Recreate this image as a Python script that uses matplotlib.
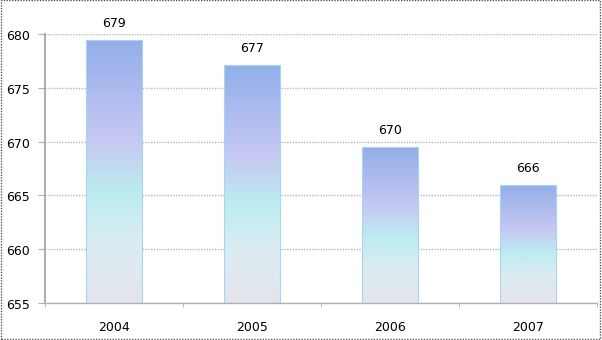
import matplotlib
matplotlib.use("Agg")
import matplotlib.pyplot as plt
import numpy as np
from matplotlib.colors import LinearSegmentedColormap
from matplotlib.patches import Rectangle

years = ["2004", "2005", "2006", "2007"]
values = [679.45, 677.1, 669.5, 665.97]
labels = ["679", "677", "670", "666"]
yticks = [655, 660, 665, 670, 675, 680]

fig = plt.figure(figsize=6.02 * np.array([1, 341 / 602]), dpi=100)
ax = fig.add_axes([45 / 602, 37 / 341, 552 / 602, 269 / 341])

cmap = LinearSegmentedColormap.from_list(
    "g", [(0.0, "#e4e4ec"), (0.22, "#dcecf2"), (0.42, "#bcecf0"),
          (0.62, "#c6c8f2"), (1.0, "#92aeea")])
grad = np.linspace(0, 1, 256).reshape(-1, 1)

ymin, ymax = 655, 680
width = 0.41
x = np.arange(len(years))
bars = ax.bar(x, [v - ymin for v in values], width, bottom=ymin,
              color="none", edgecolor="#a8d4f4", linewidth=0.8, zorder=3)
for b in bars:
    x0, y0 = b.get_x(), b.get_y()
    w, h = b.get_width(), b.get_height()
    im = ax.imshow(grad, cmap=cmap, aspect="auto", origin="lower",
                   extent=[x0, x0 + w, y0, y0 + h], zorder=2)
    im.set_clip_path(Rectangle((x0, y0), w, h, transform=ax.transData))

for xi, v, lab in zip(x, values, labels):
    ax.annotate(lab, (xi, v), xytext=(0, 8), textcoords="offset points",
                ha="center", va="bottom", fontsize=9, color="#000000")

ax.set_xlim(-0.5, len(years) - 0.5)
ax.set_ylim(ymin, ymax)
ax.set_yticks(yticks)
ax.set_xticks(x)
ax.set_xticklabels(years)
ax.set_xticks(np.arange(-0.5, len(years)), minor=True)
ax.tick_params(axis="x", which="major", length=0, pad=12, labelsize=9)
ax.tick_params(axis="x", which="minor", length=3, color="#b0b0b0", direction="out")
ax.tick_params(axis="y", length=5, color="#b0b0b0", labelsize=9, pad=6)
ax.yaxis.grid(True, linestyle=(0, (1, 1)), color="#b8b8b8", linewidth=1)
ax.set_axisbelow(True)
for s in ["top", "right"]:
    ax.spines[s].set_visible(False)
ax.spines["left"].set_color("#b0b0b0")
ax.spines["left"].set_linewidth(1.5)
ax.spines["bottom"].set_color("#b0b0b0")
ax.spines["bottom"].set_linewidth(1)

fig.patches.append(Rectangle((0.002, 0.003), 0.995, 0.994, transform=fig.transFigure,
                             fill=False, edgecolor="#555555", linewidth=1,
                             linestyle=(0, (1, 1))))
fig.savefig("out.png", dpi=100)
